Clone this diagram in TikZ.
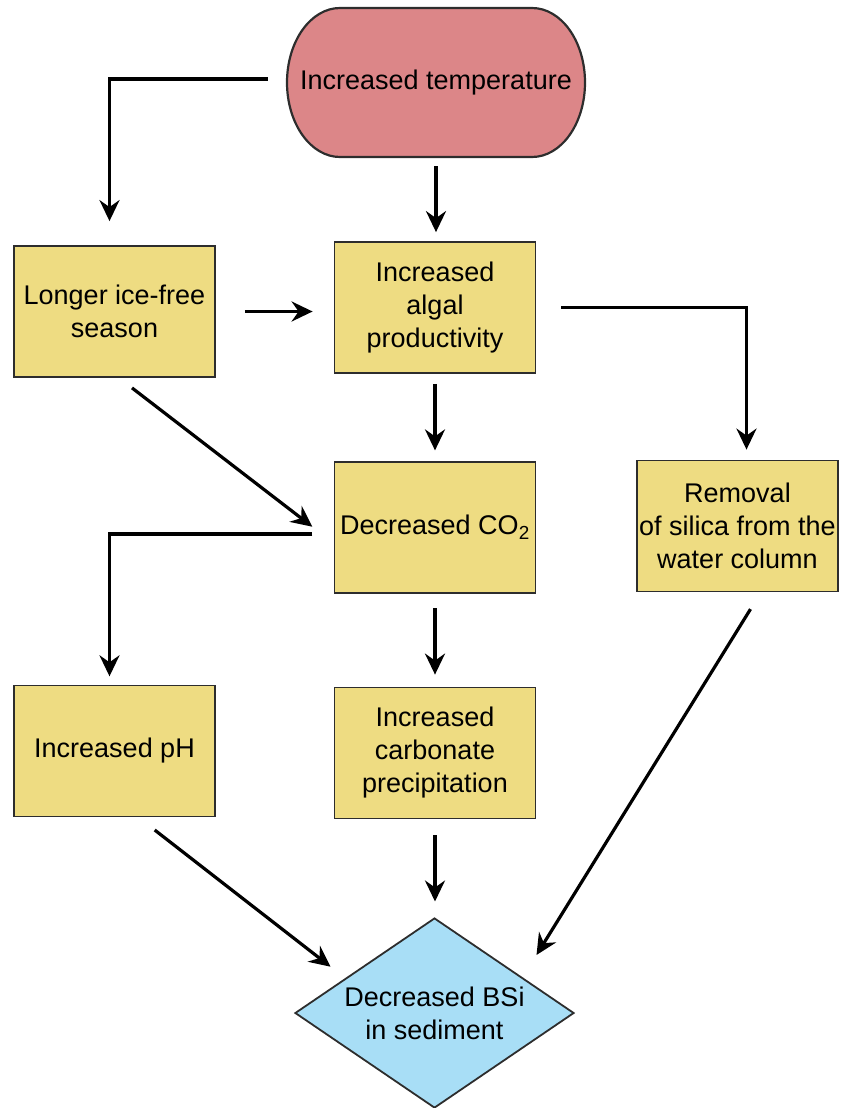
\documentclass[tikz,border=0pt]{standalone}
\usepackage{fontspec}
\setmainfont{Liberation Sans}
\usetikzlibrary{arrows.meta,shapes.geometric}
\definecolor{redfill}{RGB}{220,134,136}
\definecolor{yelfill}{RGB}{238,220,130}
\definecolor{bluefill}{RGB}{168,222,246}
\definecolor{edgecol}{RGB}{45,45,45}
\begin{document}
\begin{tikzpicture}[x=1pt,y=-1pt,
  font=\fontsize{27}{33}\selectfont,
  box/.style={draw=edgecol, line width=1.8pt, fill=yelfill, minimum width=201pt,
    minimum height=131pt, align=center, inner sep=0pt},
  arr/.style={line width=3.2pt, -{Stealth[length=21pt,width=20pt,inset=7pt]}},
  terminal/.style={minimum width=298pt, minimum height=149pt, inner sep=0pt, align=center},
  decision/.style={diamond, draw=edgecol, line width=1.8pt, fill=bluefill,
    minimum width=279pt, minimum height=190pt, inner sep=0pt, shape aspect=1.47, align=center}]
\useasboundingbox (0,0) rectangle (841,1108);
% terminal shape
\draw[edgecol, line width=2.2pt, fill=redfill] (340,8) -- (532,8)
  arc[start angle=90, end angle=-90, x radius=53pt, y radius=74.5pt]
  -- (340,157)
  arc[start angle=270, end angle=90, x radius=53pt, y radius=74.5pt] -- cycle;
\node[terminal] (temp) at (436,82.5) {Increased temperature};
\node[box] (longer) at (114.5,311.5) {Longer ice-free\\season};
\node[box] (algal) at (435,307.5) {Increased\\algal\\productivity};
\node[box] (co2) at (435,527.5) {Decreased CO\textsubscript{2}};
\node[box] (removal) at (737.5,526) {Removal\\of silica from the\\water column};
\node[box] (ph) at (114.5,751) {Increased pH};
\node[box] (carb) at (435,753) {Increased\\carbonate\\precipitation};
\node[decision] (bsi) at (434.5,1013) {Decreased BSi\\in sediment};
% connectors
\draw[arr] ([xshift=-19pt,yshift=3.5pt]temp.west) -| ([xshift=-5pt,yshift=24pt]longer.north);
\draw[arr, shorten <=9pt, shorten >=9pt] (temp.south) -- (temp.south |- algal.north);
\draw[arr, shorten <=29pt, shorten >=21pt] (longer.east) -- (longer.east -| algal.west);
\draw[arr] ([xshift=24.6pt]algal.east) -| ([xshift=9pt,yshift=10pt]removal.north);
\draw[arr, shorten <=10pt, shorten >=10.7pt] (algal.south) -- (co2.north);
\draw[arr] ([xshift=17.5pt,yshift=-10pt]longer.south) -- ([xshift=-21.3pt,yshift=0.8pt]co2.west);
\draw[arr] ([xshift=-21.3pt,yshift=-6.5pt]co2.west) -| ([xshift=-5pt,yshift=8.3pt]ph.north);
\draw[arr, shorten <=14.4pt, shorten >=12pt] (co2.south) -- (carb.north);
\draw[arr] ([xshift=13pt,yshift=-16.7pt]removal.south) -- ([xshift=102pt,yshift=58pt]bsi.center);
\draw[arr] ([xshift=40.2pt,yshift=-12.6pt]ph.south) -- ([xshift=-104pt,yshift=46.3pt]bsi.center);
\draw[arr, shorten <=16pt, shorten >=15.6pt] (carb.south) -- (carb.south |- bsi.north);
\end{tikzpicture}
\end{document}
